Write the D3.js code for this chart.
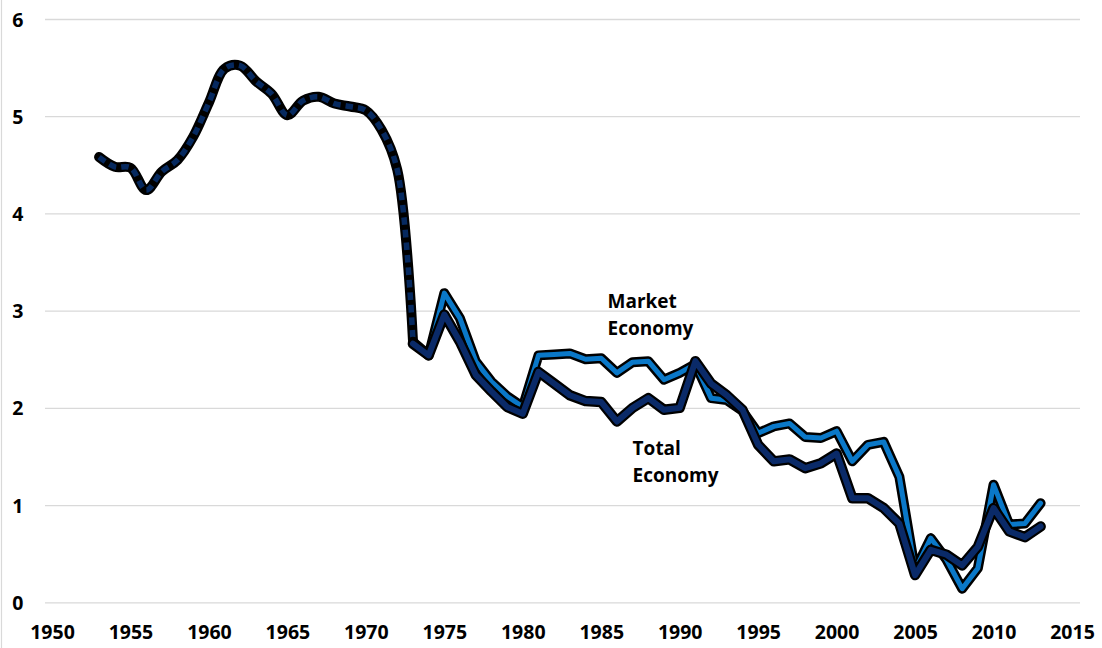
<!DOCTYPE html>
<html><head><meta charset="utf-8">
<script src="https://cdn.jsdelivr.net/npm/d3@7"></script>
<style>
body{margin:0;background:#fff}
svg text{font-family:"Open Sans",Lato,sans-serif;font-weight:bold;fill:#000}
</style>
</head><body><svg id="c" width="1102" height="648"></svg>
<script>
const histYears = [1953,1954,1955,1956,1957,1958,1959,1960,1961,1962,1963,1964,1965,1966,1967,1968,1969,1970,1971,1972,1973];
const histValues = [4.58,4.48,4.47,4.24,4.43,4.55,4.79,5.14,5.49,5.52,5.36,5.23,5.01,5.16,5.20,5.13,5.10,5.06,4.86,4.45,2.70];
const years = [1973,1974,1975,1976,1977,1978,1979,1980,1981,1982,1983,1984,1985,1986,1987,1988,1989,1990,1991,1992,1993,1994,1995,1996,1997,1998,1999,2000,2001,2002,2003,2004,2005,2006,2007,2008,2009,2010,2011,2012,2013];
const marketValues = [2.68,2.54,3.18,2.92,2.48,2.27,2.12,2.01,2.54,2.55,2.56,2.50,2.51,2.36,2.47,2.48,2.29,2.36,2.45,2.10,2.08,1.97,1.74,1.81,1.84,1.70,1.69,1.76,1.45,1.62,1.65,1.29,0.33,0.66,0.44,0.14,0.35,1.21,0.80,0.81,1.02];
const totalValues = [2.66,2.54,2.96,2.68,2.34,2.17,2.01,1.94,2.37,2.25,2.13,2.07,2.06,1.86,2.00,2.10,1.98,2.00,2.48,2.25,2.13,1.98,1.62,1.45,1.47,1.38,1.43,1.53,1.07,1.07,0.97,0.81,0.28,0.54,0.49,0.38,0.57,0.97,0.73,0.67,0.78];
const xTicks = [1950,1955,1960,1965,1970,1975,1980,1985,1990,1995,2000,2005,2010,2015];
const yTicks = [0,1,2,3,4,5,6];
const labels = [
  {lines:["Market","Economy"], year:1985.4, value:3.03},
  {lines:["Total","Economy"], year:1987.0, value:1.52}
];

const svg = d3.select("#c");
const x = d3.scaleLinear().domain([1950,2015]).range([52,1072]);
const y = d3.scaleLinear().domain([0,6]).range([602.3,19]);
const gridLeft = 45, gridRight = 1080;

svg.append("line").attr("x1",1.5).attr("x2",1.5).attr("y1",0).attr("y2",648)
  .attr("stroke","#d9d9d9").attr("stroke-width",1.2);

const grid = svg.append("g").attr("transform",`translate(${gridLeft},0)`)
  .call(d3.axisLeft(y).tickValues(yTicks).tickSize(-(gridRight-gridLeft)).tickFormat(""));
grid.select(".domain").remove();
grid.selectAll("line").attr("stroke","#d9d9d9").attr("stroke-width",1.3);

const ya = svg.append("g").attr("transform","translate(23.5,0)")
  .call(d3.axisLeft(y).tickValues(yTicks).tickSize(0).tickPadding(0).tickFormat(d3.format("d")));
ya.select(".domain").remove();
ya.attr("font-size",19.5).attr("font-family",null);
ya.selectAll("text").attr("dy","0.36em");

const xa = svg.append("g").attr("transform","translate(0,625)")
  .call(d3.axisBottom(x).tickValues(xTicks).tickSize(0).tickPadding(0).tickFormat(d3.format("d")));
xa.select(".domain").remove();
xa.attr("font-size",19.5).attr("font-family",null);

const defs = svg.append("defs");
defs.append("filter").attr("id","soft").append("feGaussianBlur").attr("stdDeviation",0.6);

const lineLin = d3.line().x(d=>x(d[0])).y(d=>y(d[1]));
const lineSmooth = d3.line().x(d=>x(d[0])).y(d=>y(d[1])).curve(d3.curveCatmullRom.alpha(0.5));

const hist = histYears.map((yr,i)=>[yr,histValues[i]]);
const market = years.map((yr,i)=>[yr,marketValues[i]]);
const total = years.map((yr,i)=>[yr,totalValues[i]]);

function outlined(data, gen, color, inner, outer, dash){
  svg.append("path").datum(data).attr("d",gen).attr("fill","none")
    .attr("stroke","#000").attr("stroke-width",outer).attr("stroke-linejoin","round")
    .attr("stroke-linecap","round").attr("filter", dash ? null : "url(#soft)");
  const p = svg.append("path").datum(data).attr("d",gen).attr("fill","none")
    .attr("stroke",color).attr("stroke-width",inner).attr("stroke-linejoin","round");
  if(dash) p.attr("stroke-dasharray",dash).attr("stroke-linecap","butt");
  else p.attr("stroke-linecap","round");
}

outlined(hist, lineSmooth, "#06295f", 5.5, 10, "7.5,5");
outlined(market, lineLin, "#0a78c8", 5, 10);
outlined(total, lineLin, "#0a2a68", 6, 10.5);

labels.forEach(l=>{
  const t = svg.append("text").attr("x",x(l.year)).attr("y",y(l.value)).attr("font-size",19);
  l.lines.forEach((s,i)=>t.append("tspan").attr("x",x(l.year)).attr("dy",i?27:0).text(s));
});
</script>
</body></html>
